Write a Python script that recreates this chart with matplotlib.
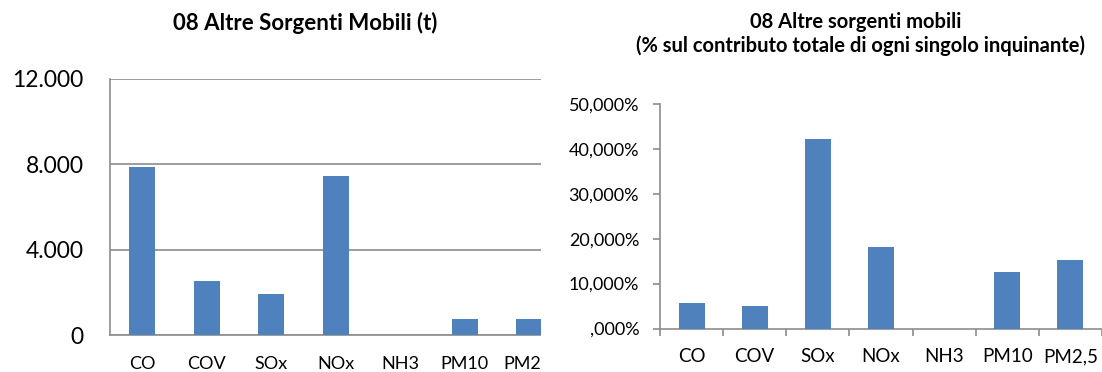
import matplotlib
matplotlib.use("Agg")
import matplotlib.pyplot as plt
from matplotlib.patches import Rectangle

plt.rcParams['font.family'] = ['Lato', 'DejaVu Sans']

# ---- data ----
categories = ["CO", "COV", "SOx", "NOx", "NH3", "PM10", "PM2,5"]
tonnes = [7860, 2530, 1910, 7450, 0, 760, 760]
percent = [5.57, 4.98, 42.1, 18.2, 0.0, 12.5, 15.15]

left_yticks = [0, 4000, 8000, 12000]
left_ylabels = ["0", "4.000", "8.000", "12.000"]
right_yticks = [0, 10, 20, 30, 40, 50]
right_ylabels = [",000%", "10,000%", "20,000%", "30,000%", "40,000%", "50,000%"]

title_left = "08 Altre Sorgenti Mobili (t)"
title_right_1 = "08 Altre sorgenti mobili"
title_right_2 = "(% sul contributo totale di ogni singolo inquinante)"

BAR = "#4F81BD"
GRID = "#8C8C8C"
W, H = 1102, 372

fig = plt.figure(figsize=(W / 100, H / 100), dpi=100)

def fx(px):
    return px / W

def fy(py):
    return 1 - py / H

# ---- left chart ----
axL = fig.add_axes([fx(110), fy(335), fx(451.5), (335 - 79) / H])
x = list(range(len(categories)))
axL.bar(x, tonnes, width=0.41, color=BAR, zorder=3)
axL.set_xlim(-0.5, len(categories) - 0.5)
axL.set_ylim(0, 12000)
axL.set_yticks(left_yticks, left_ylabels)
axL.set_xticks(x, categories)
axL.grid(axis='y', color=GRID, linewidth=1.2, zorder=0)
axL.set_axisbelow(True)
for s in ['top', 'right']:
    axL.spines[s].set_visible(False)
for s in ['left', 'bottom']:
    axL.spines[s].set_color(GRID)
    axL.spines[s].set_linewidth(1.2)
axL.tick_params(axis='y', length=0, pad=19, labelsize=16.5, labelcolor='black')
axL.tick_params(axis='x', length=0, pad=15, labelsize=13, labelcolor='black')

# white cover clipping the left chart at the original crop edge
fig.add_artist(Rectangle((fx(540.5), 0), fx(22), 1, transform=fig.transFigure,
                         facecolor='white', edgecolor='none', zorder=10))

# ---- right chart ----
axR = fig.add_axes([fx(660), fy(328.5), fx(442), (328.5 - 104) / H])
axR.bar(x, percent, width=0.41, color=BAR, zorder=3)
axR.set_xlim(-0.5, len(categories) - 0.5)
axR.set_ylim(0, 50)
axR.set_yticks(right_yticks, right_ylabels)
axR.set_xticks(x, categories)
axR.set_xticks([i + 0.5 for i in range(-1, len(categories))], minor=True)
for s in ['top', 'right']:
    axR.spines[s].set_visible(False)
for s in ['left', 'bottom']:
    axR.spines[s].set_color(GRID)
    axR.spines[s].set_linewidth(1.2)
axR.tick_params(axis='y', length=5, width=1.2, color=GRID, pad=10, labelsize=13)
axR.tick_params(axis='x', which='major', length=0, pad=14, labelsize=13.5)
axR.tick_params(axis='x', which='minor', length=5, width=1.2, color=GRID)

# ---- titles ----
fig.text(fx(305), fy(30), title_left, ha='center', va='baseline',
         fontsize=16, fontweight='bold')
fig.text(fx(856), fy(28), title_right_1, ha='center', va='baseline',
         fontsize=14.5, fontweight='bold')
fig.text(fx(860), fy(52), title_right_2, ha='center', va='baseline',
         fontsize=14.5, fontweight='bold')

fig.savefig("out.png", dpi=100)
